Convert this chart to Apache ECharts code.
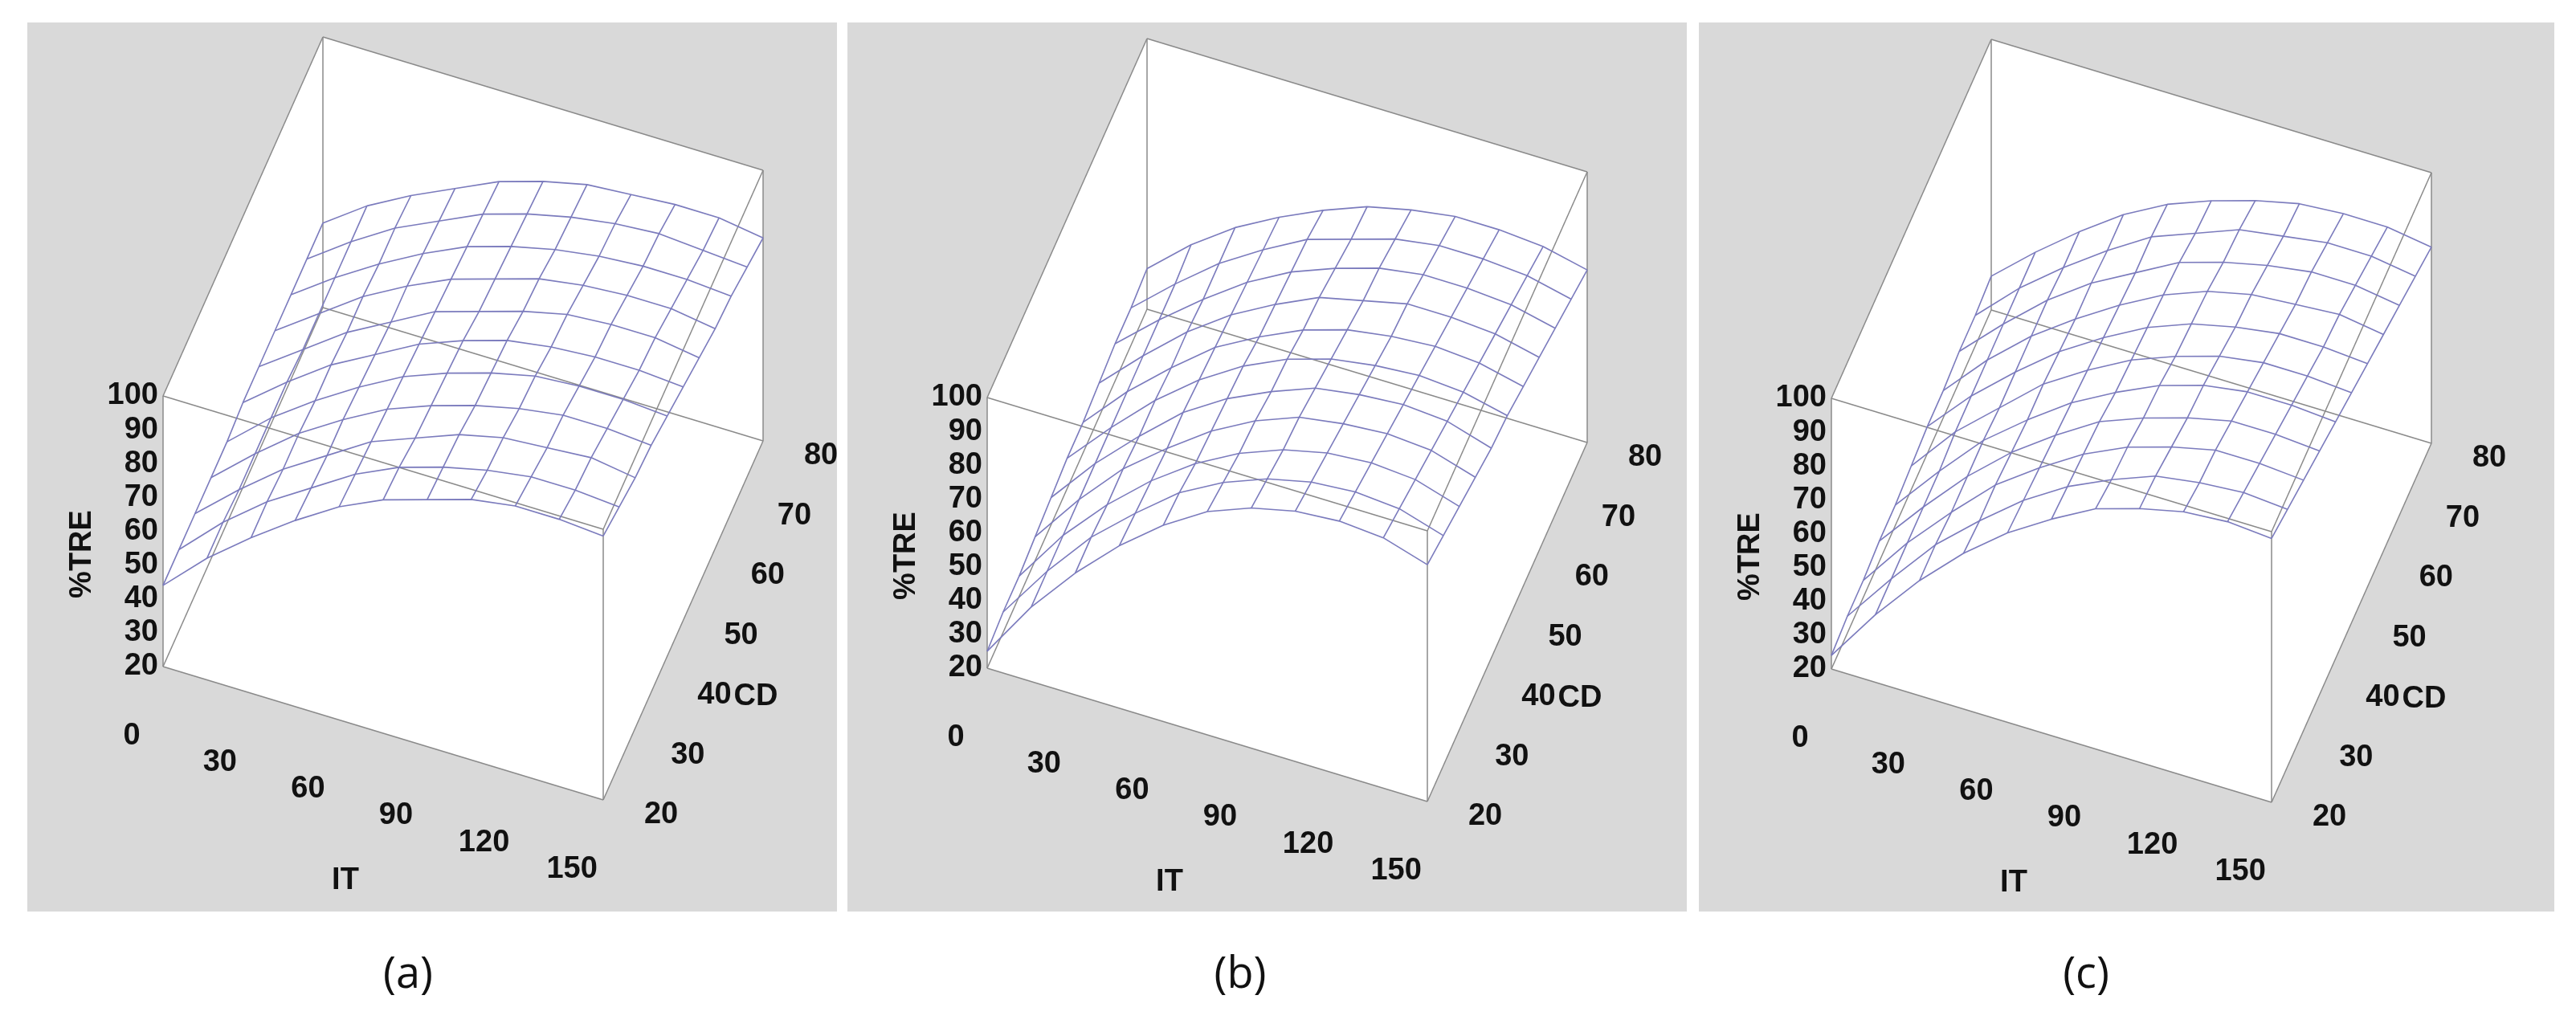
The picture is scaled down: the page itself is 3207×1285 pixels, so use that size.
<!DOCTYPE html>
<html>
<head>
<meta charset="utf-8">
<script src="https://cdn.jsdelivr.net/npm/echarts@6/dist/echarts.min.js"></script>
<style>html,body{margin:0;padding:0;background:#fff}#main{width:3207px;height:1285px}</style>
</head>
<body>
<div id="main"></div>
<script>
// grid of the response surface: rows = CD values, columns = IT values
const itValues = [0, 15, 30, 45, 60, 75, 90, 105, 120, 135, 150];
const cdValues = [20, 26, 32, 38, 44, 50, 56, 62, 68, 74, 80];
const itTicks = [0, 30, 60, 90, 120, 150];
const cdTicks = [20, 30, 40, 50, 60, 70, 80];
const treTicks = [20, 30, 40, 50, 60, 70, 80, 90, 100];
const captions = ['(a)', '(b)', '(c)'];

const treA = [
  [44,56,66,75,83,89,93,97,99,99,98],
  [44,56,66,74,82,88,92,95,97,97,96],
  [44,55,65,73,81,86,91,94,95,96,94],
  [44,55,65,73,80,85,89,92,94,94,93],
  [44,55,64,72,79,84,88,91,92,92,91],
  [45,55,64,71,78,83,87,89,90,90,89],
  [45,54,63,70,77,81,85,88,89,89,87],
  [45,54,63,70,76,80,84,86,87,87,85],
  [45,54,62,69,75,79,82,84,85,85,84],
  [45,54,62,68,74,78,81,83,84,83,82],
  [45,54,61,67,73,77,80,81,82,82,80]
];
const treB = [
  [25,42,56,68,78,86,91,94,95,94,90],
  [26,42,56,67,77,84,89,92,93,92,88],
  [26,42,55,66,75,82,87,90,91,90,86],
  [27,42,55,65,74,81,86,88,89,88,84],
  [28,42,54,65,73,79,84,86,87,86,82],
  [29,42,54,64,72,78,82,84,85,84,81],
  [29,42,53,63,70,76,80,82,83,82,79],
  [30,42,53,62,69,75,78,81,81,80,77],
  [31,42,52,61,68,73,77,79,79,78,75],
  [31,42,52,60,67,71,75,77,77,76,73],
  [32,43,52,59,65,70,73,75,75,74,71]
];
const treC = [
  [24,40,54,66,76,84,91,95,98,99,98],
  [25,40,54,65,75,83,89,94,96,97,96],
  [25,40,53,65,74,82,88,92,95,95,94],
  [26,40,53,64,73,81,86,90,93,93,92],
  [26,40,53,63,72,79,85,89,91,91,90],
  [27,41,52,63,71,78,83,87,89,89,88],
  [28,41,52,62,70,77,82,85,87,87,86],
  [28,41,52,61,69,76,81,84,85,86,84],
  [29,41,52,61,68,75,79,82,84,84,82],
  [29,41,51,60,68,73,78,80,82,82,80],
  [30,41,51,60,67,72,76,79,80,80,78]
];

const panels = [
  {tre: treA, origin: [203, 830], bg: [34, 1042], cap: 508},
  {tre: treB, origin: [1229, 832], bg: [1055, 2100], cap: 1544},
  {tre: treC, origin: [2280, 833], bg: [2115, 3180], cap: 2597}
];

// oblique projection of (IT, CD, %TRE) into page space
function proj(o, it, cd, z) {
  return [
    o[0] + it / 150 * 548 + (cd - 20) / 60 * 199,
    o[1] + it / 150 * 166 - (cd - 20) / 60 * 447 - (z - 20) / 80 * 337
  ];
}

const FONT = "'Liberation Sans Narrow', 'Liberation Sans', Arial, sans-serif";
const series = [];
const graphic = [];

function lineSeries(pts, color, width) {
  series.push({
    type: 'line', data: pts, symbol: 'none', silent: true, animation: false,
    lineStyle: {color: color, width: width}, z: 3
  });
}

panels.forEach((p, pi) => {
  const o = p.origin;
  graphic.push({type: 'rect', shape: {x: p.bg[0], y: 28, width: p.bg[1] - p.bg[0], height: 1107},
    style: {fill: '#d9d9d9'}, z: -10});
  graphic.push({type: 'text', x: p.cap, y: 1215, style: {text: captions[pi], font: "54px 'Open Sans', Calibri, sans-serif",
    fill: '#111', align: 'center', verticalAlign: 'middle'}});

  // white box silhouette
  const sil = [[0,20,20],[150,20,20],[150,80,20],[150,80,100],[0,80,100],[0,20,100]].map(c => proj(o, c[0], c[1], c[2]));
  series.push({
    type: 'custom', silent: true, animation: false, data: [0], z: 1,
    renderItem: (params, api) => ({
      type: 'polygon', shape: {points: sil.map(pt => api.coord(pt))}, style: {fill: '#fff'}
    })
  });

  // box edges
  const corners = [];
  [0, 150].forEach(a => [20, 80].forEach(b => [20, 100].forEach(c => corners.push([a, b, c]))));
  corners.forEach((c1, i) => corners.forEach((c2, j) => {
    if (j <= i) return;
    const diff = (c1[0] !== c2[0]) + (c1[1] !== c2[1]) + (c1[2] !== c2[2]);
    if (diff === 1) lineSeries([proj(o, ...c1), proj(o, ...c2)], '#8a8a8a', 1.5);
  }));

  // surface mesh
  p.tre.forEach((row, r) => {
    lineSeries(row.map((v, c) => proj(o, itValues[c], cdValues[r], v)), '#7b7bbd', 1.6);
  });
  itValues.forEach((it, c) => {
    lineSeries(p.tre.map((row, r) => proj(o, it, cdValues[r], row[c])), '#7b7bbd', 1.6);
  });

  // tick labels as text
  const labels = [];
  treTicks.forEach(v => { const q = proj(o, 0, 20, v); labels.push([q[0] - 6, q[1], String(v), 'right', 0]); });
  itTicks.forEach(v => { const q = proj(o, v, 9.5, 20); labels.push([q[0] - 4, q[1] + 8, String(v), 'center', 0]); });
  cdTicks.forEach(v => { const q = proj(o, 167, v, 20); labels.push([q[0] + 10, q[1], String(v), 'center', 0]); });
  labels.push([o[0] + 227, o[1] + 267, 'IT', 'center', 0]);
  labels.push([o[0] + 738, o[1] + 38, 'CD', 'center', 0]);
  labels.push([o[0] - 100, o[1] - 140, '%TRE', 'center', 1]);
  series.push({
    type: 'custom', silent: true, animation: false, data: labels, z: 5,
    renderItem: (params, api) => {
      const d = labels[params.dataIndex];
      const pt = api.coord([d[0], d[1]]);
      return {
        type: 'text', x: pt[0], y: pt[1], rotation: d[4] ? Math.PI / 2 : 0,
        style: {text: d[2], font: 'bold 38px ' + FONT, fill: '#111', align: d[3], verticalAlign: 'middle'}
      };
    }
  });
});

const chart = echarts.init(document.getElementById('main'));
chart.setOption({
  animation: false,
  grid: {left: 0, right: 0, top: 0, bottom: 0},
  xAxis: {type: 'value', min: 0, max: 3207, show: false},
  yAxis: {type: 'value', min: 0, max: 1285, inverse: true, show: false},
  graphic: graphic,
  series: series
});
</script>
</body>
</html>
